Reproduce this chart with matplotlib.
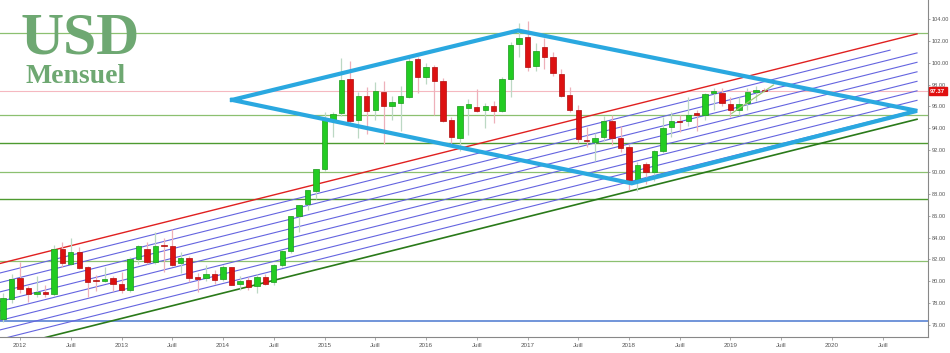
import matplotlib
matplotlib.use("Agg")
import matplotlib.pyplot as plt
from matplotlib.patches import Rectangle

# ---- data: monthly candles, month index 0 = Jan 2012 ----
months = list(range(-2, 89))
opens = [76.6, 78.4, 80.3, 79.4, 78.8, 79.0, 78.8, 83.0, 81.6, 82.7, 81.3, 80.15, 80.0, 80.3, 79.8, 79.2,
         82.0, 83.0, 81.8, 83.35, 83.2, 81.7, 82.1, 80.4, 80.3, 80.7, 80.2, 81.3, 79.8, 80.1, 79.6, 80.4,
         79.9, 81.5, 82.8, 86.0, 87.1, 88.3, 90.3, 94.8, 95.4, 98.5, 94.8, 97.0, 95.7, 97.3, 96.0, 96.3,
         96.9, 100.3, 98.7, 99.6, 98.3, 94.8, 93.15, 95.9, 95.95, 95.7, 96.05, 95.6, 98.5, 101.7, 102.4,
         99.7, 101.4, 100.5, 99.0, 97.05, 95.7, 92.95, 92.75, 93.25, 94.65, 93.1, 92.3, 89.25, 90.75,
         90.05, 91.9, 94.1, 94.7, 94.65, 95.35, 95.2, 97.2, 97.25, 96.25, 95.7, 96.3, 97.3, 97.55]
closes = [78.5, 80.2, 79.3, 78.8, 79.0, 78.85, 83.0, 81.7, 82.7, 81.2, 79.9, 80.0, 80.2, 79.8, 79.2, 82.0,
          83.2, 81.8, 83.2, 83.2, 81.5, 82.1, 80.3, 80.25, 80.7, 80.1, 81.3, 79.7, 80.05, 79.5, 80.4, 79.8,
          81.5, 82.8, 86.0, 87.0, 88.4, 90.3, 94.8, 95.3, 98.4, 94.7, 97.0, 95.6, 97.4, 96.0, 96.4, 97.0,
          100.2, 98.7, 99.6, 98.3, 94.7, 93.2, 96.0, 96.2, 95.6, 96.05, 95.6, 98.5, 101.6, 102.3, 99.6,
          101.1, 100.5, 99.1, 97.0, 95.7, 93.0, 92.8, 93.15, 94.7, 93.15, 92.2, 89.3, 90.6, 90.05,
          91.9, 94.05, 94.7, 94.55, 95.25, 95.25, 97.15, 97.4, 96.3, 95.7, 96.25, 97.3, 97.55, 97.37]
highs = [78.9, 80.7, 81.8, 79.6, 80.5, 79.7, 83.3, 83.6, 84.0, 83.1, 81.4, 80.6, 81.3, 80.5, 80.9, 82.2,
         83.3, 83.6, 84.5, 84.0, 84.8, 82.7, 82.3, 80.8, 81.5, 81.0, 81.5, 81.3, 80.5, 80.4, 80.7, 80.7,
         81.6, 82.9, 86.0, 87.0, 88.4, 90.3, 95.5, 95.5, 100.4, 100.2, 97.3, 97.8, 98.2, 98.3, 97.0, 97.9,
         100.5, 100.5, 100.0, 99.8, 98.6, 95.0, 96.0, 96.7, 97.6, 96.3, 96.5, 98.7, 101.9, 103.6, 103.8,
         101.8, 102.3, 101.0, 99.4, 97.8, 96.1, 94.1, 93.6, 95.1, 95.2, 94.2, 92.6, 90.9, 90.9,
         92.0, 95.0, 95.5, 95.2, 96.9, 95.7, 97.2, 97.7, 97.7, 96.9, 96.9, 97.7, 97.9, 97.7]
lows = [76.3, 78.0, 78.9, 78.1, 78.6, 78.6, 78.7, 81.3, 81.5, 81.1, 78.6, 79.1, 79.9, 79.1, 78.9, 79.0,
        81.6, 81.6, 81.6, 80.9, 81.4, 80.8, 79.9, 79.0, 80.0, 79.8, 80.0, 79.7, 79.2, 79.2, 78.9, 79.7,
        79.7, 81.3, 82.6, 84.5, 86.5, 87.5, 90.1, 93.2, 95.1, 94.4, 93.1, 93.5, 94.8, 92.6, 94.8, 93.8,
        96.8, 97.2, 98.1, 95.2, 94.6, 92.6, 91.9, 93.4, 95.5, 94.0, 94.5, 95.5, 96.9, 100.5, 99.2,
        99.2, 99.4, 98.8, 96.9, 95.5, 92.7, 92.3, 91.0, 92.8, 92.5, 91.8, 88.4, 88.3, 88.9,
        89.2, 91.7, 93.2, 93.7, 94.2, 93.8, 94.8, 95.7, 96.0, 95.0, 95.2, 95.7, 96.5, 97.3]

last_price = 97.37
support_levels = [102.7, 95.25, 92.65, 90.0, 87.5, 81.9]
support_strong = [False, False, True, False, True, False]
blue_level = 76.4

# channel (month, value)
chan_top = [(-2.4, 81.63), (106.05, 102.64)]
chan_bottom = [(-3.0, 73.70), (106.05, 94.83)]
inner_offsets = [0.87, 1.74, 2.60, 3.47, 4.34, 5.21, 6.08, 6.94]
inner_ends = [102.86, 106.05, 106.05, 106.05, 106.05, 106.05, 106.05, 106.05]
diamond_m = [25.07, 58.88, 106.05, 72.32, 25.07]
diamond_v = [96.6, 102.95, 95.6, 88.97, 96.6]
short_trend = [(84.15, 95.37), (89.07, 97.96)]

tick_pos = list(range(0, 103, 6))
tick_labels = []
for p in tick_pos:
    tick_labels.append(str(2012 + p // 12) if p % 12 == 0 else "Juill")
ytick_vals = list(range(76, 105, 2))

# ---- figure ----
W, H = 950, 353
fig = plt.figure(figsize=(W / 100, H / 100), dpi=100)
ax = fig.add_axes([0, 1 - 337 / H, 928 / W, 337 / H])
ax.set_xlim(-2.365, 107.35)
ax.set_ylim(74.91, 105.74)

# horizontal lines
for lv, strong in zip(support_levels, support_strong):
    ax.axhline(lv, color="#4e9a30" if strong else "#8cc070", lw=1.0 if strong else 0.9, zorder=1)
ax.axhline(blue_level, color="#4a78d0", lw=1.1, zorder=1)
ax.axhline(last_price, color="#f5b8c0", lw=0.8, zorder=1)

# channel
slope = (chan_top[1][1] - chan_top[0][1]) / (chan_top[1][0] - chan_top[0][0])
for off, mend in zip(inner_offsets, inner_ends):
    m0 = -3.0
    v0 = chan_top[0][1] + slope * (m0 - chan_top[0][0]) - off
    v1 = chan_top[0][1] + slope * (mend - chan_top[0][0]) - off
    ax.plot([m0, mend], [v0, v1], color="#6464e0", lw=0.8, zorder=2)
ax.plot([p[0] for p in chan_top], [p[1] for p in chan_top], color="#e02020", lw=1.0, zorder=2)
ax.plot([p[0] for p in chan_bottom], [p[1] for p in chan_bottom], color="#2a7a1a", lw=1.2, zorder=2)

# candles
bw = 0.64
for m, o, h, l, c in zip(months, opens, highs, lows, closes):
    up = c >= o
    face = "#22cc22" if up else "#dd1111"
    edge = "#1a9a1a" if up else "#b00d0d"
    wick = "#bcd8c4" if up else "#eeb0ba"
    ax.plot([m, m], [l, h], color=wick, lw=0.9, zorder=3, solid_capstyle="butt")
    bot = min(o, c)
    ht = max(abs(c - o), 0.12)
    ax.add_patch(Rectangle((m - bw / 2, bot), bw, ht, facecolor=face, edgecolor=edge, lw=0.5, zorder=4))

# diamond and short trend
ax.plot(diamond_m, diamond_v, color="#2aa8e0", lw=3.0, zorder=5, solid_joinstyle="miter")
ax.plot([p[0] for p in short_trend], [p[1] for p in short_trend], color="#9cc878", lw=0.9, zorder=5)

# axes styling
for s in ["top", "left"]:
    ax.spines[s].set_visible(False)
ax.spines["right"].set_color("#888888")
ax.spines["bottom"].set_color("#888888")
ax.spines["right"].set_linewidth(0.8)
ax.spines["bottom"].set_linewidth(0.8)
ax.yaxis.tick_right()
ax.set_yticks(ytick_vals)
ax.set_yticklabels([f"{v:.2f}" for v in ytick_vals], fontsize=4.1, color="#555555", family="Liberation Sans")
ax.set_xticks(tick_pos)
ax.set_xticklabels(tick_labels, fontsize=4.5, color="#555555", family="Liberation Sans")
ax.tick_params(axis="y", length=1.5, width=0.5, color="#888888", pad=1.0)
ax.tick_params(axis="x", length=2, width=0.5, color="#888888", pad=2)

# price label
ax.annotate(f"{last_price:.2f}", xy=(1.0, last_price), xycoords=("axes fraction", "data"),
            xytext=(1.5, 0), textcoords="offset points", fontsize=4.3, color="white",
            family="Liberation Sans", fontweight="bold", va="center", ha="left",
            bbox=dict(boxstyle="square,pad=0.25", fc="#e01010", ec="#e01010"), zorder=10,
            annotation_clip=False)

# titles
fig.text(21 / W, 1 - 53 / H, "USD", fontsize=43, fontweight="bold", family="Liberation Serif",
         color="#6ea872", ha="left", va="baseline", zorder=20)
fig.text(25 / W, 1 - 83 / H, "Mensuel", fontsize=20, fontweight="bold", family="Liberation Serif",
         color="#6ea872", ha="left", va="baseline", zorder=20)

fig.savefig("out.png", dpi=100)
